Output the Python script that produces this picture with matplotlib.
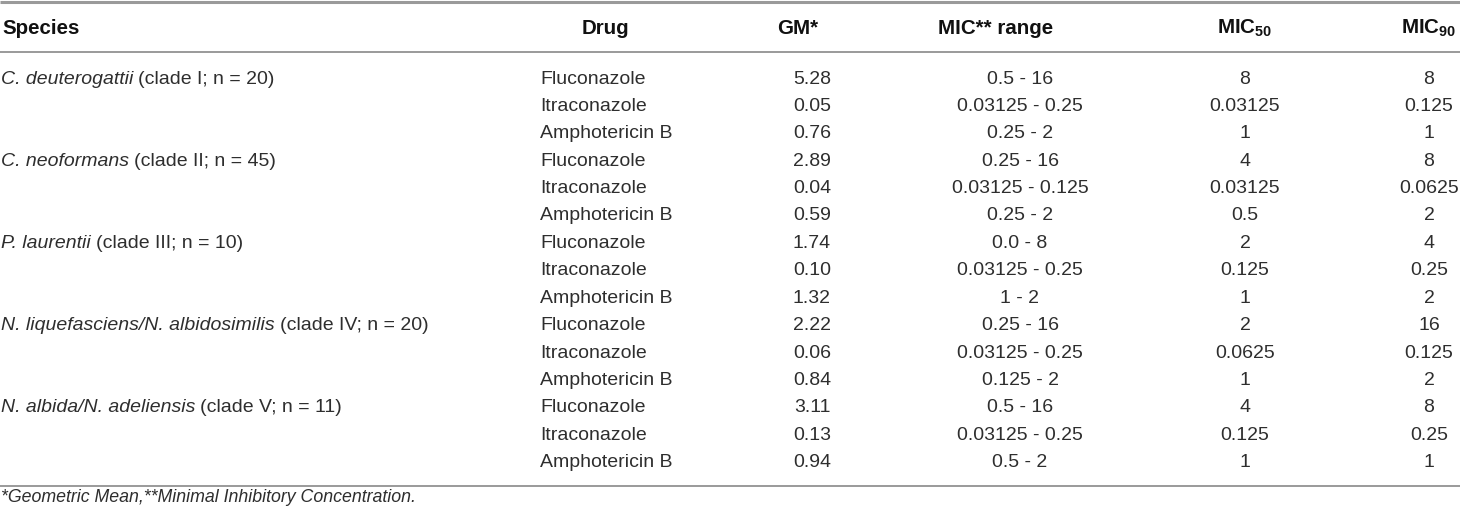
import matplotlib
matplotlib.use("Agg")
import matplotlib.pyplot as plt

plt.rcParams['font.family'] = ['Liberation Sans', 'DejaVu Sans']
plt.rcParams['mathtext.fontset'] = 'custom'
plt.rcParams['mathtext.rm'] = 'Liberation Sans'
plt.rcParams['mathtext.bf'] = 'Liberation Sans:bold'

# Table data
species_italic = ["C. deuterogattii", "C. neoformans", "P. laurentii",
                  "N. liquefasciens/N. albidosimilis", "N. albida/N. adeliensis"]
species_plain = ["(clade I; n = 20)", "(clade II; n = 45)", "(clade III; n = 10)",
                 "(clade IV; n = 20)", "(clade V; n = 11)"]
drugs = ["Fluconazole", "Itraconazole", "Amphotericin B"]
gm = ["5.28", "0.05", "0.76",
      "2.89", "0.04", "0.59",
      "1.74", "0.10", "1.32",
      "2.22", "0.06", "0.84",
      "3.11", "0.13", "0.94"]
mic_range = ["0.5 - 16", "0.03125 - 0.25", "0.25 - 2",
             "0.25 - 16", "0.03125 - 0.125", "0.25 - 2",
             "0.0 - 8", "0.03125 - 0.25", "1 - 2",
             "0.25 - 16", "0.03125 - 0.25", "0.125 - 2",
             "0.5 - 16", "0.03125 - 0.25", "0.5 - 2"]
mic50 = ["8", "0.03125", "1",
         "4", "0.03125", "0.5",
         "2", "0.125", "1",
         "2", "0.0625", "1",
         "4", "0.125", "1"]
mic90 = ["8", "0.125", "1",
         "8", "0.0625", "2",
         "4", "0.25", "2",
         "16", "0.125", "2",
         "8", "0.25", "1"]
headers = ["Species", "Drug", "GM*", "MIC** range",
           r"MIC$_{\mathbf{50}}$", r"MIC$_{\mathbf{90}}$"]
footnote = "*Geometric Mean,**Minimal Inhibitory Concentration."

W, H = 1460, 516
fig = plt.figure(figsize=(W / 100, H / 100), dpi=100)
ax = fig.add_axes([0, 0, 1, 1])
ax.set_xlim(0, W)
ax.set_ylim(H, 0)
ax.axis("off")

fs = 14
body = "#2e2e2e"
head = "#111111"
line_c = "#9a9a9a"

# rules
ax.plot([0, W], [1.5, 1.5], color=line_c, lw=2.2, solid_capstyle="butt")
ax.plot([0, W], [51.5, 51.5], color=line_c, lw=1.4, solid_capstyle="butt")
ax.plot([0, W], [485.5, 485.5], color=line_c, lw=1.4, solid_capstyle="butt")

# header row
hy = 28.5
hx = [2, 582, 798, 996, 1245, 1429]
has = ["left", "left", "center", "center", "center", "center"]
for x, t, a in zip(hx, headers, has):
    ax.text(x, hy, t, ha=a, va="center", fontsize=14.8, fontweight="bold", color=head)

row0, dy = 79, 27.4
fig.canvas.draw()
renderer = fig.canvas.get_renderer()

for i in range(len(gm)):
    y = row0 + dy * i
    if i % 3 == 0:
        k = i // 3
        t1 = ax.text(1, y, species_italic[k], ha="left", va="center",
                     fontsize=fs, style="italic", color=body)
        bb = t1.get_window_extent(renderer)
        x_end = ax.transData.inverted().transform((bb.x1, bb.y0))[0]
        ax.text(x_end + 5, y, species_plain[k], ha="left", va="center",
                fontsize=fs, color=body)
    ax.text(540, y, drugs[i % 3], ha="left", va="center", fontsize=fs, color=body)
    ax.text(812, y, gm[i], ha="center", va="center", fontsize=fs, color=body)
    ax.text(1020, y, mic_range[i], ha="center", va="center", fontsize=fs, color=body)
    ax.text(1245, y, mic50[i], ha="center", va="center", fontsize=fs, color=body)
    ax.text(1429, y, mic90[i], ha="center", va="center", fontsize=fs, color=body)

ax.text(1, 498, footnote, ha="left", va="center", fontsize=12.8,
        style="italic", color=body)

fig.savefig("out.png", dpi=100)
